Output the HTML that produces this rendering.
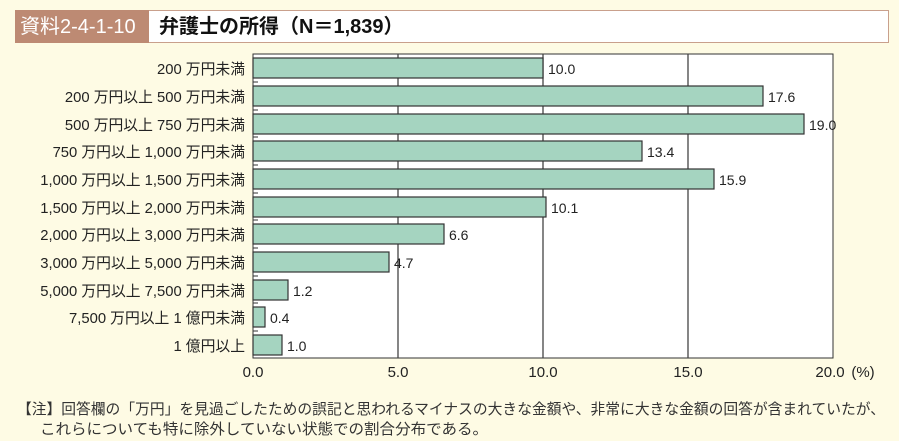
<!DOCTYPE html>
<html><head><meta charset="utf-8"><style>
body{margin:0;background:#fefbe4;}
svg{display:block;font-family:"Liberation Sans","Noto Sans CJK JP",sans-serif;}
</style></head><body>
<svg width="899" height="441" viewBox="0 0 899 441">
<rect x="0" y="0" width="899" height="441" fill="#fefbe4"/>
<rect x="15.5" y="10.5" width="873" height="32" fill="#fff" stroke="#c9a08c"/>
<rect x="15" y="10" width="134" height="33" fill="#bd8a73"/>
<text x="20" y="33" font-size="20" fill="#fff">資料2-4-1-10</text>
<text x="159" y="33" font-size="20" font-weight="bold" fill="#111">弁護士の所得（N＝1,839）</text>
<rect x="253" y="54" width="580" height="304" fill="#fff" stroke="#333"/>
<g stroke="#444" stroke-width="1.3">
<line x1="398" y1="54" x2="398" y2="358"/><line x1="543" y1="54" x2="543" y2="358"/><line x1="688" y1="54" x2="688" y2="358"/>
</g>
<g fill="#a5d4c0" stroke="#333" stroke-width="1.2">
<rect x="253" y="58" width="290" height="20"/>
<rect x="253" y="86" width="510" height="20"/>
<rect x="253" y="114" width="551" height="20"/>
<rect x="253" y="141" width="389" height="20"/>
<rect x="253" y="169" width="461" height="20"/>
<rect x="253" y="197" width="293" height="20"/>
<rect x="253" y="224" width="191" height="20"/>
<rect x="253" y="252" width="136" height="20"/>
<rect x="253" y="280" width="35" height="20"/>
<rect x="253" y="307" width="12" height="20"/>
<rect x="253" y="335" width="29" height="20"/>
</g>
<g stroke="#333"><line x1="253" y1="82" x2="258" y2="82"/><line x1="253" y1="110" x2="258" y2="110"/><line x1="253" y1="137" x2="258" y2="137"/><line x1="253" y1="165" x2="258" y2="165"/><line x1="253" y1="193" x2="258" y2="193"/><line x1="253" y1="220" x2="258" y2="220"/><line x1="253" y1="248" x2="258" y2="248"/><line x1="253" y1="276" x2="258" y2="276"/><line x1="253" y1="303" x2="258" y2="303"/><line x1="253" y1="331" x2="258" y2="331"/></g>
<g font-size="14" fill="#222">
<text x="548" y="74">10.0</text><text x="768" y="102">17.6</text><text x="809" y="130">19.0</text><text x="647" y="157">13.4</text><text x="719" y="185">15.9</text><text x="551" y="213">10.1</text><text x="449" y="240">6.6</text><text x="394" y="268">4.7</text><text x="293" y="296">1.2</text><text x="270" y="323">0.4</text><text x="287" y="351">1.0</text>
</g>
<g font-size="14.8" fill="#222" text-anchor="end">
<text x="245" y="74">200 万円未満</text>
<text x="245" y="102">200 万円以上 500 万円未満</text>
<text x="245" y="130">500 万円以上 750 万円未満</text>
<text x="245" y="157">750 万円以上 1,000 万円未満</text>
<text x="245" y="185">1,000 万円以上 1,500 万円未満</text>
<text x="245" y="213">1,500 万円以上 2,000 万円未満</text>
<text x="245" y="240">2,000 万円以上 3,000 万円未満</text>
<text x="245" y="268">3,000 万円以上 5,000 万円未満</text>
<text x="245" y="296">5,000 万円以上 7,500 万円未満</text>
<text x="245" y="323">7,500 万円以上 1 億円未満</text>
<text x="245" y="351">1 億円以上</text>
</g>
<g font-size="15" fill="#222" text-anchor="middle">
<text x="253" y="377">0.0</text><text x="398" y="377">5.0</text><text x="543" y="377">10.0</text><text x="688" y="377">15.0</text><text x="830" y="377">20.0</text>
</g>
<text x="863" y="377" font-size="15" fill="#222" text-anchor="middle">(%)</text>
<g font-size="14.8" fill="#333">
<text x="17" y="414" textLength="868" lengthAdjust="spacingAndGlyphs">【注】回答欄の「万円」を見過ごしたための誤記と思われるマイナスの大きな金額や、非常に大きな金額の回答が含まれていたが、</text>
<text x="40" y="434" textLength="448" lengthAdjust="spacingAndGlyphs">これらについても特に除外していない状態での割合分布である。</text>
</g>
</svg>
</body></html>
